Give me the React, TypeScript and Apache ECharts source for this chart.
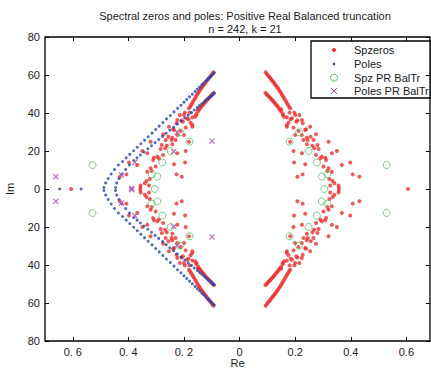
import React, { useEffect, useRef } from "react";
import * as echarts from "echarts";

type P = [number, number];

const titleLine1 = "Spectral zeros and poles: Positive Real Balanced truncation";
const titleLine2 = "n = 242, k = 21";
const xAxisName = "Re";
const yAxisName = "Im";
const legendNames = ["Spzeros", "Poles", "Spz PR BalTr", "Poles PR BalTr"];
const xTickValues = [-0.6, -0.4, -0.2, 0, 0.2, 0.4, 0.6];

// Poles of the full model (upper half-plane); conjugates complete them
const polesOuterUpper: P[] = [
  [-0.488, 0.8], [-0.482, 3.2], [-0.473, 5.5], [-0.462, 7.9], [-0.45, 10.3], [-0.436, 12.6],
  [-0.421, 14.5], [-0.408, 16.4], [-0.395, 18.2], [-0.381, 20.1], [-0.368, 22.0], [-0.355, 23.8],
  [-0.342, 25.7], [-0.329, 27.5], [-0.315, 29.4], [-0.302, 31.3], [-0.289, 33.1], [-0.276, 35.0],
  [-0.263, 36.9], [-0.249, 38.7], [-0.236, 40.6], [-0.223, 42.5], [-0.211, 44.1], [-0.2, 45.7],
  [-0.19, 47.1], [-0.18, 48.5], [-0.17, 49.9], [-0.16, 51.3], [-0.152, 52.5], [-0.144, 53.6],
  [-0.136, 54.8], [-0.129, 55.7], [-0.122, 56.7], [-0.116, 57.6], [-0.111, 58.3], [-0.106, 59.0],
  [-0.101, 59.7], [-0.096, 60.4], [-0.091, 61.1],
];
const polesInnerUpper: P[] = [
  [-0.446, 0.8], [-0.442, 3.2], [-0.434, 5.5], [-0.423, 7.9], [-0.41, 10.3], [-0.396, 12.6],
  [-0.38, 15.0], [-0.369, 16.4], [-0.357, 17.9], [-0.344, 19.5], [-0.33, 21.2], [-0.317, 22.8],
  [-0.304, 24.4], [-0.291, 26.0], [-0.277, 27.7], [-0.264, 29.3], [-0.251, 30.9], [-0.237, 32.5],
  [-0.224, 34.2], [-0.211, 35.8], [-0.197, 37.4], [-0.185, 38.9], [-0.173, 40.3], [-0.163, 41.6],
  [-0.152, 42.9], [-0.144, 43.9], [-0.136, 44.9], [-0.128, 45.8], [-0.122, 46.7], [-0.115, 47.5],
  [-0.11, 48.1], [-0.104, 48.8], [-0.099, 49.4], [-0.095, 49.9], [-0.091, 50.4],
];
const polesReal: P[] = [[-0.647, 0], [-0.57, 0]];

// Spectral zeros, upper-right quadrant (they are symmetric in both axes)
const spzCurvesUR: P[] = [
  [0.094, 61.4], [0.098, 60.6], [0.102, 59.8], [0.106, 59.1], [0.11, 58.4], [0.114, 57.6],
  [0.118, 56.9], [0.122, 56.2], [0.126, 55.4], [0.13, 54.6], [0.134, 53.8], [0.138, 53.0],
  [0.142, 52.1], [0.146, 51.2], [0.15, 50.3], [0.154, 49.3], [0.158, 48.3], [0.162, 47.3],
  [0.166, 46.3], [0.17, 45.3], [0.174, 44.3], [0.178, 43.3],
  [0.093, 50.6], [0.097, 50.0], [0.101, 49.3], [0.105, 48.7], [0.109, 48.1], [0.113, 47.5],
  [0.117, 46.8], [0.121, 46.2], [0.125, 45.5], [0.129, 44.8], [0.133, 44.1], [0.137, 43.4],
  [0.141, 42.6], [0.145, 41.8], [0.149, 40.9],
];
const spzScatterUR: P[] = [
  [0.15, 41.9], [0.182, 42.5], [0.197, 40.2], [0.156, 38.9], [0.17, 37.7], [0.184, 36.7],
  [0.208, 36.0], [0.224, 36.3], [0.176, 34.9], [0.18, 40.2], [0.2, 39.0], [0.215, 39.0],
  [0.188, 37.2], [0.204, 35.4], [0.17, 33.7], [0.227, 34.6], [0.239, 31.4], [0.17, 32.8],
  [0.194, 32.3], [0.212, 30.5], [0.236, 31.1], [0.254, 32.8], [0.2, 28.4], [0.224, 28.4],
  [0.242, 27.0], [0.256, 27.5], [0.275, 28.8], [0.23, 25.8], [0.245, 25.8], [0.266, 25.8],
  [0.32, 24.9], [0.242, 23.5], [0.262, 22.8], [0.28, 23.2], [0.268, 21.4], [0.284, 21.0],
  [0.194, 20.0], [0.224, 18.8], [0.332, 18.8], [0.35, 20.0], [0.275, 17.9], [0.296, 17.0],
  [0.308, 16.5], [0.29, 16.1], [0.311, 15.3], [0.196, 14.0], [0.236, 13.0], [0.398, 14.0],
  [0.368, 12.6], [0.302, 11.8], [0.32, 10.9], [0.332, 9.1], [0.316, 9.5], [0.208, 6.5],
  [0.227, 7.7], [0.407, 7.7], [0.431, 6.5], [0.323, 5.3], [0.335, 4.2], [0.341, 3.0],
  [0.356, 1.8], [0.326, 1.8], [0.357, 0.6], [0.182, 24.9], [0.155, 39.5], [0.16, 38.0],
];
const spzReal: P[] = [[0.606, 0], [-0.606, 0]];

// Spectral zeros of the reduced model (upper-right quadrant) and its poles (upper half)
const spzBalTrUR: P[] = [
  [0.529, 12.6], [0.214, 29.8], [0.18, 24.9], [0.248, 20.0], [0.278, 14.0], [0.296, 6.5], [0.316, 7.7],
];
const spzBalTrReal: P[] = [[0.305, 0], [-0.305, 0]];
const polesBalTrUpper: P[] = [
  [-0.661, 6.5], [-0.425, 7.4], [-0.377, 14.0], [-0.237, 19.8], [-0.224, 29.8], [-0.099, 25.2], [-0.388, 0.4],
];

const withConj = (pts: P[]): P[] => [...pts, ...pts.map(([x, y]) => [x, -y] as P)];
const withMirror = (pts: P[]): P[] => [...pts, ...pts.map(([x, y]) => [-x, y] as P)];

const FONT = "'Liberation Sans', Arial, Helvetica, sans-serif";
const RED = "#ec3030";
const BLUE = "#2444b0";
const GREEN = "#55c060";
const PURPLE = "#b050b0";
const XSYM = "path://M0,1.5L1.5,0L5,3.5L8.5,0L10,1.5L6.5,5L10,8.5L8.5,10L5,6.5L1.5,10L0,8.5L3.5,5Z";

const fmtX = (v: number) => (v < 0 ? "0. " + String(Math.round(-v * 10)) : String(Math.round(v * 10) / 10));
const fmtY = (v: number) => String(Math.abs(v));

export default function App() {
  const ref = useRef<HTMLDivElement>(null);
  useEffect(() => {
    if (!ref.current) return;
    const chart = echarts.init(ref.current, null, { renderer: "svg" });
    const spzData = [...withMirror(withConj([...spzCurvesUR, ...spzScatterUR])), ...spzReal];
    const polesData = [...withConj([...polesOuterUpper, ...polesInnerUpper]), ...polesReal];
    const spzBalTrData = [...withMirror(withConj(spzBalTrUR)), ...spzBalTrReal];
    const polesBalTrData = withConj(polesBalTrUpper);

    const tick = { inside: true, length: 4, lineStyle: { color: "#000", width: 1 } };
    const noLine = { show: false, onZero: false };
    const lx = 334;
    const lt = 354;
    const rows = [50, 64, 77.7, 91];

    chart.setOption({
      animation: false,
      backgroundColor: "#fff",
      textStyle: { fontFamily: FONT },
      title: {
        text: titleLine1 + "\n" + titleLine2,
        left: 240,
        top: 5,
        textAlign: "center",
        textStyle: { fontFamily: FONT, fontSize: 11, fontWeight: "normal", color: "#1a1a1a", lineHeight: 12.5 },
      },
      grid: {
        left: 45, right: 1, top: 37, bottom: 30, show: true, borderColor: "#000", borderWidth: 1.3,
        backgroundColor: "#fff", containLabel: false, outerBoundsMode: "none",
      },
      xAxis: [
        {
          type: "value", min: -0.7, max: 0.685, position: "bottom",
          name: xAxisName, nameLocation: "middle", nameGap: 16, nameMoveOverlap: false,
          nameTextStyle: { fontFamily: FONT, fontSize: 11, color: "#1a1a1a" },
          axisLine: noLine, splitLine: { show: false },
          axisTick: { ...tick, customValues: xTickValues },
          axisLabel: { customValues: xTickValues, formatter: fmtX, fontFamily: FONT, fontSize: 11, color: "#1a1a1a", margin: 5 },
        },
        {
          type: "value", min: -0.7, max: 0.685, position: "top",
          axisLine: noLine, splitLine: { show: false },
          axisTick: { ...tick, customValues: xTickValues },
          axisLabel: { show: false },
        },
      ],
      yAxis: [
        {
          type: "value", min: -80, max: 80, interval: 20, position: "left",
          name: yAxisName, nameLocation: "middle", nameGap: 30, nameMoveOverlap: false,
          nameTextStyle: { fontFamily: FONT, fontSize: 11, color: "#1a1a1a" },
          axisLine: noLine, splitLine: { show: false },
          axisTick: tick,
          axisLabel: { formatter: fmtY, fontFamily: FONT, fontSize: 11, color: "#1a1a1a", margin: 5 },
        },
        {
          type: "value", min: -80, max: 80, interval: 20, position: "right",
          axisLine: noLine, splitLine: { show: false },
          axisTick: tick, axisLabel: { show: false },
        },
      ],
      series: [
        { name: legendNames[0], type: "scatter", data: spzData, symbol: "circle", symbolSize: 4, itemStyle: { color: RED }, silent: true },
        { name: legendNames[1], type: "scatter", data: polesData, symbol: "circle", symbolSize: 3, itemStyle: { color: BLUE }, silent: true },
        { name: legendNames[2], type: "scatter", data: spzBalTrData, symbol: "circle", symbolSize: 7, itemStyle: { color: "none", borderColor: GREEN, borderWidth: 1 }, silent: true },
        { name: legendNames[3], type: "scatter", data: polesBalTrData, symbol: XSYM, symbolSize: 6, itemStyle: { color: PURPLE }, silent: true },
      ],
      graphic: [
        {
          type: "group", z: 100, silent: true,
          children: [
            { type: "rect", shape: { x: 311, y: 41, width: 119, height: 57 }, style: { fill: "#fff", stroke: "#000", lineWidth: 1.3 } },
            { type: "circle", shape: { cx: lx, cy: rows[0], r: 2 }, style: { fill: RED } },
            { type: "circle", shape: { cx: lx, cy: rows[1], r: 1.3 }, style: { fill: BLUE } },
            { type: "circle", shape: { cx: lx, cy: rows[2], r: 3.5 }, style: { fill: "none", stroke: GREEN, lineWidth: 1 } },
            { type: "line", shape: { x1: lx - 3, y1: rows[3] - 3, x2: lx + 3, y2: rows[3] + 3 }, style: { stroke: PURPLE, lineWidth: 1 } },
            { type: "line", shape: { x1: lx + 3, y1: rows[3] - 3, x2: lx - 3, y2: rows[3] + 3 }, style: { stroke: PURPLE, lineWidth: 1 } },
            ...legendNames.map((n, i) => ({
              type: "text", x: lt, y: rows[i],
              style: { text: n, fill: "#1a1a1a", font: `11px ${FONT}`, verticalAlign: "middle", align: "left" },
            })),
          ],
        },
      ],
    });
    return () => chart.dispose();
  }, []);
  return <div ref={ref} style={{ position: "absolute", left: 0, top: 0, width: 431, height: 371 }} />;
}
